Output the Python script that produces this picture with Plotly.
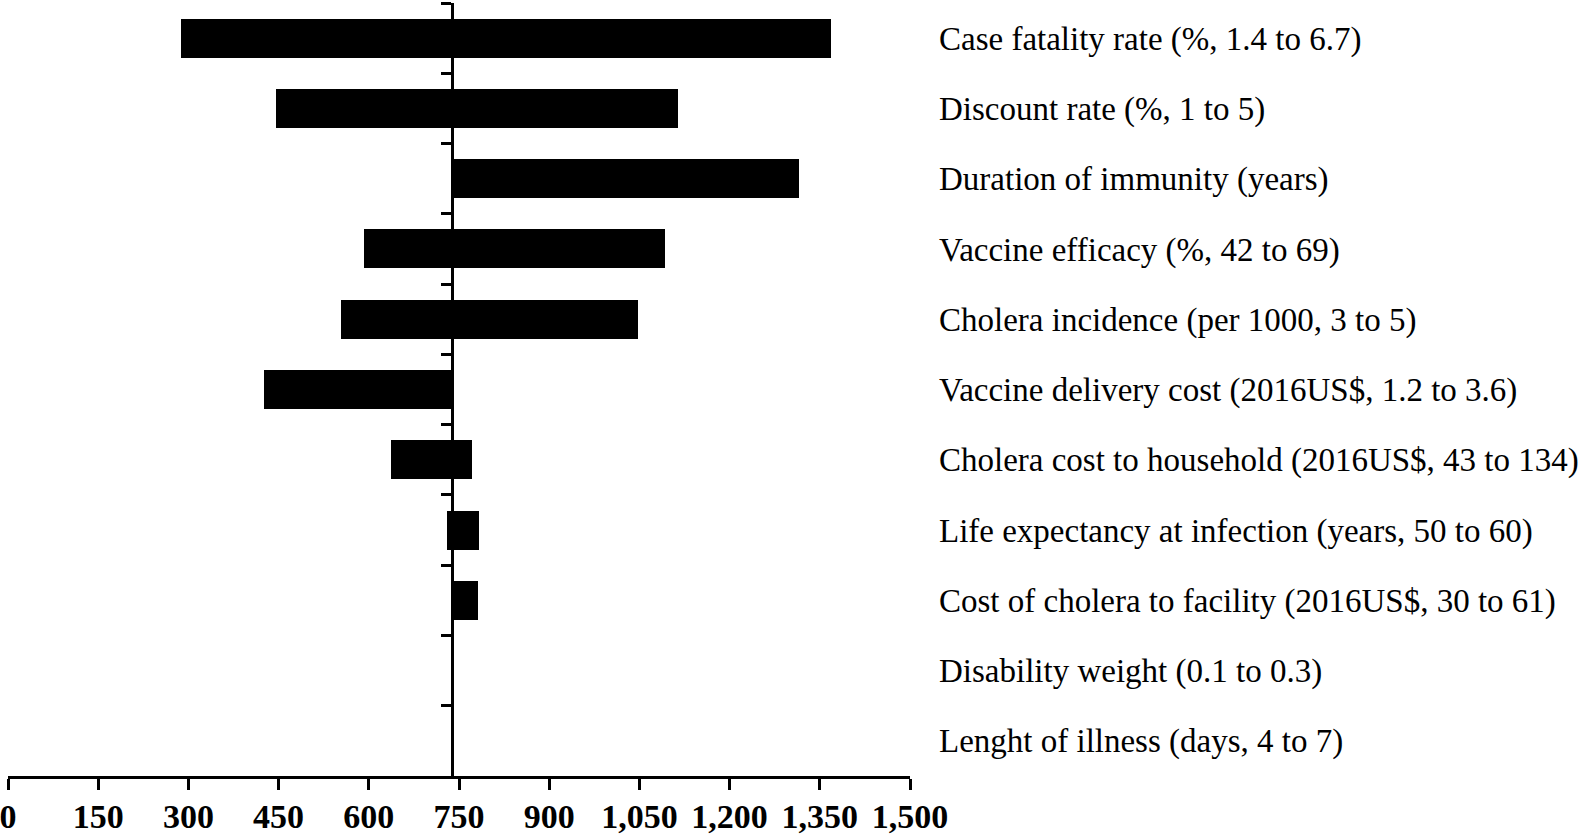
import plotly.graph_objects as go

categories = [
    "Case fatality rate (%, 1.4 to 6.7)",
    "Discount rate (%, 1 to 5)",
    "Duration of immunity (years)",
    "Vaccine efficacy (%, 42 to 69)",
    "Cholera incidence (per 1000, 3 to 5)",
    "Vaccine delivery cost (2016US$, 1.2 to 3.6)",
    "Cholera cost to household (2016US$, 43 to 134)",
    "Life expectancy at infection (years, 50 to 60)",
    "Cost of cholera to facility (2016US$, 30 to 61)",
    "Disability weight (0.1 to 0.3)",
    "Lenght of illness (days, 4 to 7)",
]
base_value = 738
low = [288, 445, 738, 592, 554, 426, 637, 730, 738, 738, 738]
high = [1369, 1114, 1316, 1092, 1048, 738, 772, 783, 782, 738, 738]
x_ticks = list(range(0, 1501, 150))

fig = go.Figure()

fig.add_trace(go.Bar(
    y=categories,
    x=[h - l for l, h in zip(low, high)],
    base=low,
    orientation='h',
    width=0.555,
    marker=dict(color='black', line=dict(width=0)),
    showlegend=False,
))

# invisible copy so the right-hand axis carries the labels
fig.add_trace(go.Scatter(
    y=categories,
    x=[base_value] * len(categories),
    yaxis='y2',
    mode='markers',
    marker=dict(opacity=0),
    hoverinfo='skip',
    showlegend=False,
))

fig.update_layout(
    width=1594,
    height=837,
    margin=dict(l=8, r=684, t=3, b=61, autoexpand=False),
    plot_bgcolor='white',
    paper_bgcolor='white',
    bargap=0,
    xaxis=dict(
        range=[0, 1500],
        tickvals=x_ticks,
        tickformat=',',
        automargin=False,
        ticklabeloverflow='allow',
        ticklabelstandoff=-3,
        showgrid=False,
        zeroline=False,
        showline=True,
        linecolor='black',
        linewidth=2.5,
        ticks='outside',
        ticklen=11,
        tickwidth=2.5,
        tickcolor='black',
        tickfont=dict(family='Liberation Serif', size=34, color='black', weight='bold'),
    ),
    yaxis=dict(
        type='category',
        categoryorder='array',
        categoryarray=categories,
        range=[10.5, -0.5],
        anchor='free',
        position=base_value / 1500,
        automargin=False,
        showgrid=False,
        zeroline=False,
        showline=True,
        linecolor='black',
        linewidth=2.5,
        ticks='outside',
        tickson='boundaries',
        ticklen=10,
        tickwidth=2.5,
        tickcolor='black',
        showticklabels=False,
    ),
    yaxis2=dict(
        type='category',
        categoryorder='array',
        categoryarray=categories,
        range=[10.5, -0.5],
        overlaying='y',
        side='right',
        anchor='x',
        automargin=False,
        showgrid=False,
        zeroline=False,
        showline=False,
        ticks='',
        ticklabelstandoff=28,
        tickfont=dict(family='Liberation Serif', size=33, color='black'),
    ),
)

# drop the browser's default body margin so the figure sits at the page corner
fig.write_html(
    "out.html",
    config={'displayModeBar': False},
    post_script="document.body.style.margin='0px';",
)
